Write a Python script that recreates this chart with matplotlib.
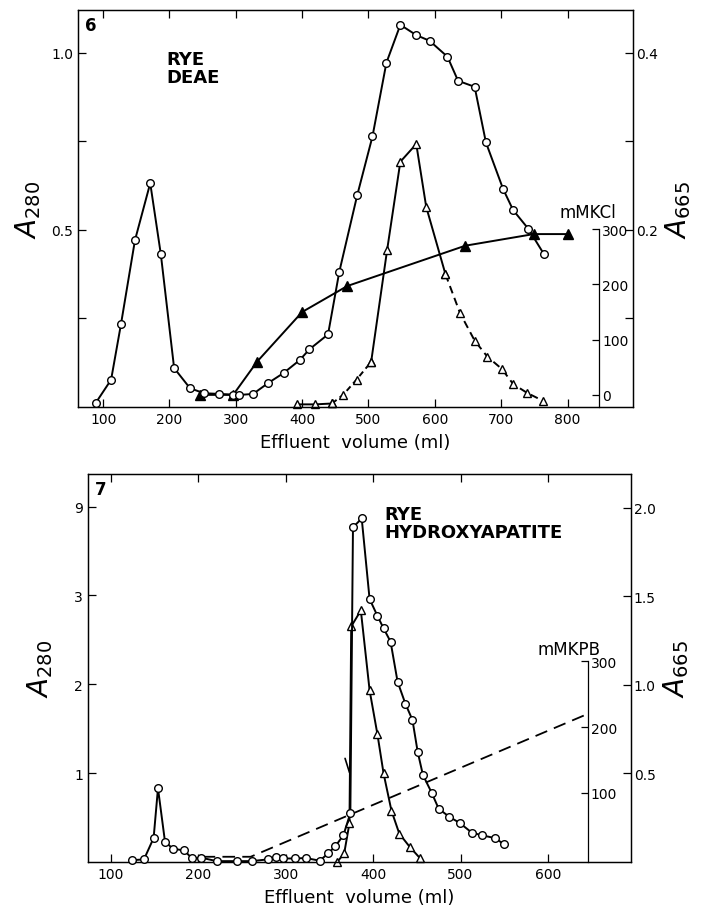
import matplotlib
matplotlib.use("Agg")
import matplotlib.pyplot as plt
import numpy as np

# ---- Figure 6: rye, DEAE column ----
deae_vol_a280 = [89, 112, 127, 148, 171, 187, 207, 231, 252, 275, 296, 305, 326,
                 349, 372, 396, 411, 439, 456, 483, 506, 527, 548, 572, 592, 619,
                 635, 660, 677, 703, 718, 741, 764]
deae_a280 = [0.012, 0.077, 0.235, 0.471, 0.632, 0.431, 0.11, 0.053, 0.039, 0.037,
             0.035, 0.034, 0.037, 0.068, 0.096, 0.132, 0.163, 0.205, 0.382, 0.598,
             0.764, 0.972, 1.079, 1.05, 1.034, 0.989, 0.921, 0.904, 0.747, 0.615,
             0.556, 0.503, 0.433]
deae_vol_a665 = [392, 420, 445, 462, 482, 504, 528, 548, 572, 587, 616, 638, 660,
                 679, 701, 718, 739, 763]
deae_a665 = [0.003, 0.003, 0.004, 0.014, 0.031, 0.051, 0.177, 0.277, 0.297, 0.226,
             0.15, 0.106, 0.075, 0.057, 0.043, 0.026, 0.016, 0.007]
deae_vol_kcl = [246, 296, 332, 400, 468, 646, 749, 801]
deae_kcl = [0, 0, 60, 150, 197, 270, 291, 291]

# ---- Figure 7: rye, hydroxyapatite column ----
hap_vol_a280 = [124, 138, 149, 154, 162, 171, 184, 193, 203, 221, 244, 261, 280,
                289, 297, 311, 323, 339, 349, 357, 366, 374, 377, 387, 396, 405,
                412, 420, 428, 437, 445, 451, 457, 467, 475, 487, 499, 513, 525,
                539, 550]
hap_a280 = [0.02, 0.03, 0.27, 0.83, 0.23, 0.15, 0.13, 0.04, 0.05, 0.01, 0.01, 0.01,
            0.03, 0.06, 0.04, 0.04, 0.045, 0.015, 0.1, 0.18, 0.3, 0.55, 7.6, 8.2,
            2.96, 2.77, 2.63, 2.48, 2.03, 1.78, 1.6, 1.24, 0.98, 0.78, 0.6, 0.51,
            0.44, 0.33, 0.3, 0.27, 0.2]
hap_vol_a665 = [359, 367, 373, 375, 386, 396, 405, 412, 421, 430, 442, 454]
hap_a665 = [0.0, 0.05, 0.22, 1.33, 1.42, 0.97, 0.72, 0.5, 0.29, 0.16, 0.085, 0.02]
hap_vol_kpb = [205, 260, 645]
hap_kpb = [3, 3, 220]

FONT = "DejaVu Sans"
plt.rcParams["font.family"] = FONT
plt.rcParams["xtick.direction"] = "in"
plt.rcParams["ytick.direction"] = "in"

fig = plt.figure(figsize=(7.02, 9.12), dpi=100)

lw = 1.4
circ = dict(marker="o", ms=5.5, mfc="white", mec="black", mew=1.0, color="black", lw=lw)
tri = dict(marker="^", ms=6, mfc="white", mec="black", mew=1.0, color="black", lw=lw)


def style_axis(ax):
    for s in ax.spines.values():
        s.set_linewidth(0.9)
    ax.tick_params(labelsize=10, length=6, width=0.9)


# ================= panel 6 =================
ax = fig.add_axes([0.111, 0.5526, 0.791, 0.435])
ax2 = ax.twinx()
ax3 = ax.twinx()
ax.set_zorder(3)
ax.patch.set_visible(False)

ax.plot(deae_vol_a280, deae_a280, clip_on=False, zorder=4, **circ)

# A665 trace: solid near the peak, dashed on the shoulders
breaks = [(0, 3, "-"), (2, 6, (0, (3, 2))), (5, 11, "-"), (10, len(deae_a665), (0, (4, 2.5)))]
for i0, i1, ls in breaks:
    ax2.plot(deae_vol_a665[i0:i1], deae_a665[i0:i1], ls=ls, clip_on=False, **tri)

ax3.plot(deae_vol_kcl, deae_kcl, marker="^", ms=7, color="black", lw=lw, clip_on=False)

ax.set_xlim(62, 899)
ax.set_ylim(0, 1.12)
ax2.set_ylim(0, 0.448)
ax3.set_ylim(-22, 696)

ax.set_xticks(range(100, 900, 100))
ax.set_yticks([0.25, 0.5, 0.75, 1.0])
ax.set_yticklabels(["", "0.5", "", "1.0"])
ax2.set_yticks([0.1, 0.2, 0.3, 0.4])
ax2.set_yticklabels(["", "0.2", "", "0.4"])
ax.tick_params(top=True)

ax3.spines["right"].set_position(("axes", 0.939))
ax3.spines["right"].set_bounds(-22, 300)
for k in ("left", "top", "bottom"):
    ax3.spines[k].set_visible(False)
ax3.set_yticks([0, 100, 200, 300])
ax3.text(0.919, 0.478, "mMKCl", transform=ax.transAxes, fontsize=12, ha="center")

for a in (ax, ax2, ax3):
    style_axis(a)
ax3.tick_params(length=5, pad=2)
ax2.tick_params(pad=2)

ax.set_xlabel("Effluent  volume (ml)", fontsize=13, labelpad=5)
ax.set_ylabel(r"$A_{280}$", fontsize=20, labelpad=6)
ax2.set_ylabel(r"$A_{665}$", fontsize=20, labelpad=4)
ax.text(0.012, 0.985, "6", transform=ax.transAxes, fontsize=12, fontweight="bold", va="top")
ax.text(0.16, 0.9, "RYE\nDEAE", transform=ax.transAxes, fontsize=13,
        fontweight="bold", va="top", linespacing=1.0)

# ================= panel 7 =================
def fwd(v):
    v = np.asarray(v, dtype=float)
    return np.where(v <= 3, v, 3 + (v - 3) / 6.0)


def inv(p):
    p = np.asarray(p, dtype=float)
    return np.where(p <= 3, p, 3 + (p - 3) * 6.0)


bx = fig.add_axes([0.1254, 0.0537, 0.7735, 0.4254])
bx2 = bx.twinx()
bx3 = bx.twinx()
bx.set_zorder(3)
bx.patch.set_visible(False)

# left scale is broken above 3 (3 -> 9 over one tick interval)
bx.set_yscale("function", functions=(fwd, inv))
bx.plot(hap_vol_a280, hap_a280, clip_on=False, zorder=4, **circ)
bx2.plot(hap_vol_a665, hap_a665, clip_on=False, **tri)
bx3.plot(hap_vol_kpb, hap_kpb, color="black", lw=1.3, ls=(0, (7, 4)))

bx.set_xlim(74, 695)
bx.set_ylim(0, 11.2)
bx2.set_ylim(0, 2.19)
bx3.set_ylim(-5, 585)

bx.set_xticks(range(100, 700, 100))
bx.set_yticks([1, 2, 3, 9])
bx.set_yticklabels(["1", "2", "3", "9"])
bx2.set_yticks([0.5, 1.0, 1.5, 2.0])
bx.tick_params(top=True)

bx3.spines["right"].set_position(("axes", 0.921))
bx3.spines["right"].set_bounds(-5, 300)
for k in ("left", "top", "bottom"):
    bx3.spines[k].set_visible(False)
bx3.set_yticks([100, 200, 300])
bx3.text(0.885, 0.535, "mMKPB", transform=bx.transAxes, fontsize=12, ha="center")

bx2.annotate("", xy=(374, 0.49), xytext=(367, 0.6),
             arrowprops=dict(arrowstyle="-", lw=1.2, color="black"))

for a in (bx, bx2, bx3):
    style_axis(a)
bx3.tick_params(length=5, pad=2)
bx2.tick_params(pad=2)

bx.set_xlabel("Effluent  volume (ml)", fontsize=13, labelpad=5)
bx.set_ylabel(r"$A_{280}$", fontsize=20, labelpad=14)
bx2.set_ylabel(r"$A_{665}$", fontsize=20, labelpad=4)
bx.text(0.012, 0.985, "7", transform=bx.transAxes, fontsize=12, fontweight="bold", va="top")
bx.text(0.545, 0.92, "RYE\nHYDROXYAPATITE", transform=bx.transAxes, fontsize=13,
        fontweight="bold", va="top", linespacing=1.0)

fig.savefig("out.png", dpi=100)
